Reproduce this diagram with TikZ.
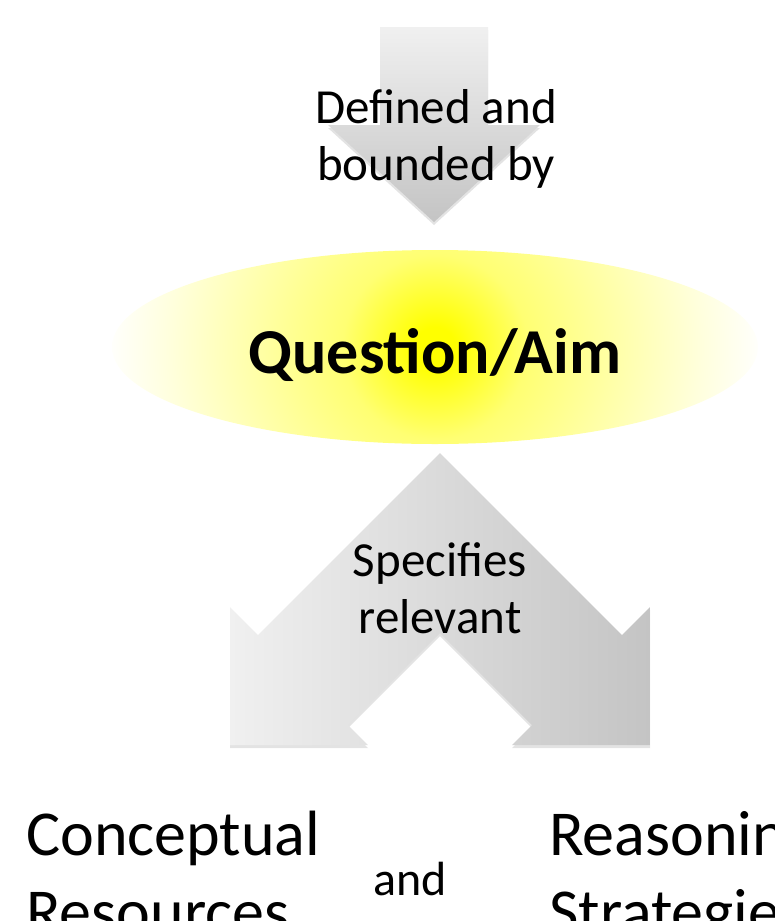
\documentclass[tikz,border=0pt]{standalone}
\usepackage{fontspec}
\setmainfont{Carlito}
\usetikzlibrary{shapes.geometric,shadows}

\definecolor{flowlight}{HTML}{F0F0F0}
\definecolor{flowdark}{HTML}{C4C4C4}

% soft yellow glow, round, clipped by the ellipse
\pgfdeclareradialshading{aimglow}{\pgfpoint{0bp}{0bp}}{%
  color(0bp)=(yellow); color(1.5bp)=(yellow); color(7bp)=(yellow!55!white);
  color(14bp)=(yellow!33!white); color(20bp)=(yellow!14!white); color(25bp)=(white)}

\begin{document}
\begin{tikzpicture}[x=1pt, y=-1pt,
    flow/.style={drop shadow={shadow xshift=0pt, shadow yshift=-3pt, opacity=0.22}},
    aimbox/.style={ellipse, minimum width=646pt, minimum height=194pt, inner sep=0pt,
        font=\fontsize{64}{70}\selectfont\bfseries, text height=52pt, text depth=0pt,
        path picture={\shade[shading=aimglow] (path picture bounding box.center) circle (330pt);}},
    cue/.style={font=\fontsize{49}{57}\selectfont, align=center, inner sep=0pt, anchor=base},
    outcome/.style={font=\fontsize{64}{78}\selectfont, align=left, inner sep=0pt, anchor=base west}
]
\useasboundingbox (0,0) rectangle (774,921);

% Top arrow into the aim
\path[flow, top color=flowlight, bottom color=flowdark]
    (380,27) -- (488,27) -- (488,125) -- (540,125) -- (434,222) -- (328,125) -- (380,125) -- cycle;
\node[cue] (defined) at (436,180) {Defined and\\bounded by};

% Central aim
\node[aimbox] (aim) at (435,347) {Question/Aim};

% Split arrow down to both outcomes
\path[flow, left color=flowlight, right color=flowdark]
    (440,453) -- (258,635) -- (230,607) -- (230,745) -- (368,745) -- (348,725) -- (440,633)
    -- (532,725) -- (512,745) -- (650,745) -- (650,607) -- (622,635) -- cycle;
\node[cue] (specifies) at (440,633) {Specifies\\relevant};

% Outcomes, cut by the page edge
\node[outcome] (concepts) at (26,933) {Conceptual\\Resources};
\node[cue, font=\fontsize{48}{56}\selectfont] (and) at (410,895) {and};
\node[outcome] (reasoning) at (549,933) {Reasoning\\Strategies};

\end{tikzpicture}
\end{document}
